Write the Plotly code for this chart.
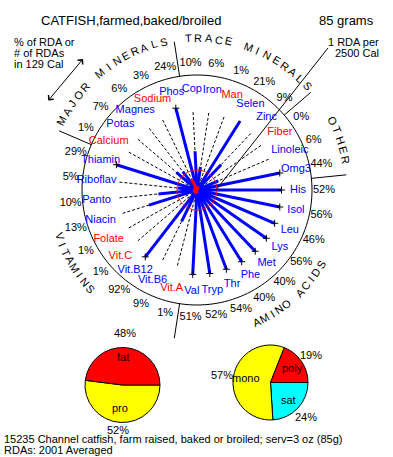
import math
import plotly.graph_objects as go

# ---------------- data ----------------
title_text = "CATFISH,farmed,baked/broiled"
serving_text = "85 grams"
calories = 129
rda_calories = 2500

# nutrients clockwise, starting at 3 o'clock
nutrients = ["His", "Isol", "Leu", "Lys", "Met", "Phe", "Thr", "Tryp", "Val",
             "Vit.A", "Vit.B6", "Vit.B12", "Vit.C", "Folate", "Niacin", "Panto", "Riboflav", "Thiamin",
             "Calcium", "Potas", "Magnes", "Sodium", "Phos",
             "Cop", "Iron", "Man", "Selen", "Zinc",
             "Fiber", "Linoleic", "Omg3"]
pct_rda = [52, 56, 46, 56, 40, 40, 54, 52, 51,
           1, 9, 92, 1, 1, 13, 10, 5, 29,
           1, 7, 6, 3, 24,
           10, 6, 1, 21, 9,
           0, 6, 44]
categories = ["AMINO ACIDS", "VITAMINS", "MAJOR MINERALS", "TRACE MINERALS", "OTHER"]
category_sizes = [9, 9, 5, 5, 3]

# calorie split and fat split (counter-clockwise from 3 o'clock)
cal_labels = ["fat", "pro"]
cal_values = [48, 52]
fat_labels = ["poly", "mono", "sat"]
fat_values = [19, 57, 24]

footer1 = "15235 Channel catfish, farm raised, baked or broiled; serv=3 oz (85g)"
footer2 = "RDAs: 2001 Averaged"

# ---------------- geometry / style ----------------
W, H = 393, 457
CX, CY = 197, 190          # wheel centre, px
R_DOMAIN = 160             # polar domain radius, px
RED_PCT = 100.0 * calories / rda_calories   # 1 RDA per 2500 Cal
PX_PER_PCT = 20.0 / RED_PCT
def rp(px):
    return px / PX_PER_PCT

R_OUTER = rp(115)
R_DASH = rp(80)
R_CLIP = rp(84.5)
R_NAME = rp(101)
R_PCT = rp(127)
R_DIV0, R_DIV1 = rp(115), rp(150)

FONT = "Liberation Sans, Arial, sans-serif"
BLUE = "#0000FF"
RED = "#FF0000"
YELLOW = "#FFFF00"
CYAN = "#00FFFF"

n = len(nutrients)
step = 360.0 / n
theta = [90 + k * step for k in range(n)]
colors = [RED if v < 5 else BLUE for v in pct_rda]

def pxx(x):
    return x / W
def pxy(y):
    return 1 - y / H

fig = go.Figure()

# outer circle
circ = [i for i in range(0, 361, 2)]
fig.add_trace(go.Scatterpolar(r=[R_OUTER] * len(circ), theta=circ, mode="lines",
                              line=dict(color="black", width=1), hoverinfo="skip"))

# dashed spokes
rd, td = [], []
for t in theta:
    rd += [0, R_DASH, None]
    td += [t, t, None]
fig.add_trace(go.Scatterpolar(r=rd, theta=td, mode="lines", connectgaps=False,
                              line=dict(color="black", width=1, dash="3px,2px"), hoverinfo="skip"))

# value spokes
for col in (BLUE, RED):
    rr, tt = [], []
    for t, v, c in zip(theta, pct_rda, colors):
        if c == col and v > 0:
            rr += [0, min(v, R_CLIP), None]
            tt += [t, t, None]
    fig.add_trace(go.Scatterpolar(r=rr, theta=tt, mode="lines", connectgaps=False,
                                  line=dict(color=col, width=3), hoverinfo="skip"))

# plus marks where the spoke is clipped
clip_t = [t for t, v in zip(theta, pct_rda) if v > R_CLIP]
fig.add_trace(go.Scatterpolar(r=[R_CLIP] * len(clip_t), theta=clip_t, mode="markers",
                              marker=dict(symbol="cross-thin", size=5,
                                          line=dict(color="black", width=1)),
                              hoverinfo="skip"))

# red circle: 1 RDA per 2500 Cal
fig.add_trace(go.Scatterpolar(r=[RED_PCT] * len(circ), theta=circ, mode="lines",
                              line=dict(color=RED, width=1), hoverinfo="skip"))

# category dividers
bounds = []
cum = 0
for s in category_sizes:
    bounds.append(90 + (cum - 0.5) * step)
    cum += s
rr, tt = [], []
for b in bounds:
    rr += [R_DIV0, R_DIV1, None]
    tt += [b, b, None]
fig.add_trace(go.Scatterpolar(r=rr, theta=tt, mode="lines", connectgaps=False,
                              line=dict(color="black", width=1), hoverinfo="skip"))

# nutrient names
fig.add_trace(go.Scatterpolar(r=[R_NAME] * n, theta=theta, mode="text", text=nutrients,
                              textfont=dict(family=FONT, size=11, color=colors),
                              textposition="middle center", hoverinfo="skip"))
# percent labels
fig.add_trace(go.Scatterpolar(r=[R_PCT] * n, theta=theta, mode="text",
                              text=[f"{v}%" for v in pct_rda],
                              textfont=dict(family=FONT, size=11, color="black"),
                              textposition="middle center", hoverinfo="skip"))

# pies (drawn clockwise from 3 o'clock, so lists are reversed)
fig.add_trace(go.Pie(labels=cal_labels[::-1], values=cal_values[::-1], sort=False,
                     direction="clockwise", rotation=90, textinfo="none",
                     marker=dict(colors=[RED, YELLOW][::-1], line=dict(color="black", width=1)),
                     domain=dict(x=[pxx(85), pxx(160)], y=[pxy(422.5), pxy(347.5)]),
                     hoverinfo="skip", showlegend=False))
fig.add_trace(go.Pie(labels=fat_labels[::-1], values=fat_values[::-1], sort=False,
                     direction="clockwise", rotation=90, textinfo="none",
                     marker=dict(colors=[RED, YELLOW, CYAN][::-1], line=dict(color="black", width=1)),
                     domain=dict(x=[pxx(233), pxx(308)], y=[pxy(420), pxy(345)]),
                     hoverinfo="skip", showlegend=False))

annotations = []
def txt(x, y, s, size=11, xanchor="center", color="black", angle=0):
    annotations.append(dict(x=pxx(x), y=pxy(y), xref="paper", yref="paper", text=s,
                            showarrow=False, xanchor=xanchor, yanchor="middle",
                            textangle=angle, font=dict(family=FONT, size=size, color=color)))

# curved category titles
nudge = {"AMINO ACIDS": 2, "VITAMINS": -1.7, "MAJOR MINERALS": 0,
         "TRACE MINERALS": 1.4, "OTHER": 4}
cum = 0
for name, s in zip(categories, category_sizes):
    mid = 90 + (cum + (s - 1) / 2) * step + nudge[name]
    cum += s
    top = math.cos(math.radians(mid)) > 0
    L = len(name)
    if top:
        r, st = 152, 3.85
    else:
        r, st = 145, 3.45
    for i, ch in enumerate(name):
        if ch == " ":
            continue
        off = (i - (L - 1) / 2) * st
        a = mid + off if top else mid - off
        x = CX + r * math.sin(math.radians(a))
        y = CY - r * math.cos(math.radians(a))
        txt(x, y, ch, size=11, angle=a if top else a - 180)

# headings
txt(39, 20, title_text, size=13, xanchor="left")
txt(317, 20, serving_text, size=13, xanchor="left")
txt(12, 42, "% of RDA or", xanchor="left")
txt(12, 53, "# of RDAs", xanchor="left")
txt(12, 64, f"in {calories} Cal", xanchor="left")
txt(381, 42, "1 RDA per", xanchor="right")
txt(381, 53, f"{rda_calories} Cal", xanchor="right")

# pie labels
txt(123, 357, cal_labels[0]); txt(120, 408, cal_labels[1])
txt(125, 333, f"{cal_values[0]}%"); txt(118, 430, f"{cal_values[1]}%")
txt(292, 368, fat_labels[0]); txt(246, 378, fat_labels[1]); txt(288, 400, fat_labels[2])
txt(311, 355, f"{fat_values[0]}%"); txt(222, 375, f"{fat_values[1]}%"); txt(306, 417, f"{fat_values[2]}%")

# footer
txt(2, 439, footer1, xanchor="left")
txt(2, 450, footer2, xanchor="left")

# double arrow
annotations.append(dict(x=pxx(83), y=pxy(59), xref="paper", yref="paper", text="",
                        showarrow=True, ax=-36, ay=43, arrowside="end+start",
                        arrowhead=4, arrowsize=1.3, arrowwidth=1, arrowcolor="black"))

shapes = [dict(type="line", xref="paper", yref="paper",
               x0=pxx(328), y0=pxy(48), x1=pxx(216), y1=pxy(190),
               line=dict(color="black", width=1))]

fig.update_layout(
    width=W, height=H, margin=dict(l=0, r=0, t=0, b=0),
    paper_bgcolor="white", plot_bgcolor="white", showlegend=False,
    polar=dict(domain=dict(x=[pxx(CX - R_DOMAIN), pxx(CX + R_DOMAIN)],
                           y=[pxy(CY + R_DOMAIN), pxy(CY - R_DOMAIN)]),
               bgcolor="rgba(0,0,0,0)",
               radialaxis=dict(range=[0, rp(R_DOMAIN)], visible=False),
               angularaxis=dict(rotation=90, direction="clockwise", visible=False)),
    annotations=annotations, shapes=shapes,
)

fig.write_html("out.html", config={"displayModeBar": False},
               post_script="document.body.style.margin='0';document.body.style.padding='0';")
